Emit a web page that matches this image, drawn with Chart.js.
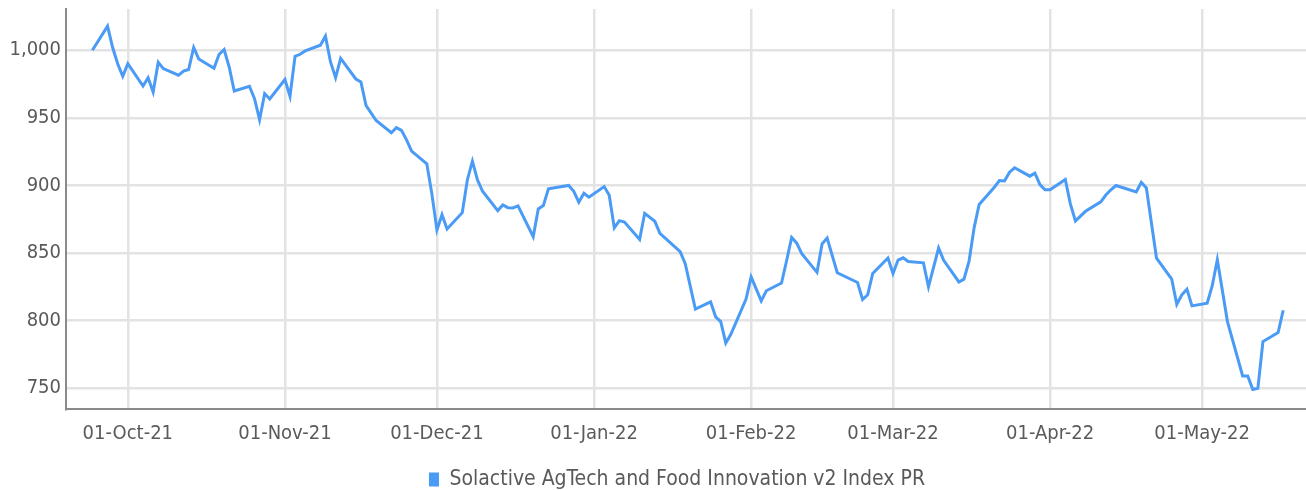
<!DOCTYPE html>
<html>
<head>
<meta charset="utf-8">
<script src="https://cdn.jsdelivr.net/npm/chart.js@4.4.1/dist/chart.umd.min.js"></script>
<style>
  html, body { margin: 0; padding: 0; background: #fff; }
  #wrap { width: 1306px; height: 490px; position: relative; }
</style>
</head>
<body>
<div id="wrap"><canvas id="indexChart"></canvas></div>
<script>
const seriesLabel = 'Solactive AgTech and Food Innovation v2 Index PR';

// trading days
const tradeDates = [
  '2021-09-24', '2021-09-27', '2021-09-28', '2021-09-29', '2021-09-30', '2021-10-01',
  '2021-10-04', '2021-10-05', '2021-10-06', '2021-10-07', '2021-10-08',
  '2021-10-11', '2021-10-12', '2021-10-13', '2021-10-14', '2021-10-15',
  '2021-10-18', '2021-10-19', '2021-10-20', '2021-10-21', '2021-10-22',
  '2021-10-25', '2021-10-26', '2021-10-27', '2021-10-28', '2021-10-29',
  '2021-11-01', '2021-11-02', '2021-11-03', '2021-11-04', '2021-11-05',
  '2021-11-08', '2021-11-09', '2021-11-10', '2021-11-11', '2021-11-12',
  '2021-11-15', '2021-11-16', '2021-11-17', '2021-11-19',
  '2021-11-22', '2021-11-23', '2021-11-24', '2021-11-25', '2021-11-26',
  '2021-11-29', '2021-11-30', '2021-12-01', '2021-12-02', '2021-12-03',
  '2021-12-06', '2021-12-07', '2021-12-08', '2021-12-09', '2021-12-10',
  '2021-12-13', '2021-12-14', '2021-12-15', '2021-12-16', '2021-12-17',
  '2021-12-20', '2021-12-21', '2021-12-22', '2021-12-23',
  '2021-12-27', '2021-12-28', '2021-12-29', '2021-12-30', '2021-12-31',
  '2022-01-03', '2022-01-04', '2022-01-05', '2022-01-06', '2022-01-07',
  '2022-01-10', '2022-01-11', '2022-01-13', '2022-01-14',
  '2022-01-18', '2022-01-19', '2022-01-21',
  '2022-01-24', '2022-01-25', '2022-01-26', '2022-01-27', '2022-01-28',
  '2022-01-31', '2022-02-01', '2022-02-03', '2022-02-04',
  '2022-02-07', '2022-02-08', '2022-02-09', '2022-02-10', '2022-02-11',
  '2022-02-14', '2022-02-15', '2022-02-16', '2022-02-18',
  '2022-02-22', '2022-02-23', '2022-02-24', '2022-02-25',
  '2022-02-28', '2022-03-01', '2022-03-02', '2022-03-03', '2022-03-04',
  '2022-03-07', '2022-03-08', '2022-03-10', '2022-03-11',
  '2022-03-14', '2022-03-15', '2022-03-16', '2022-03-17', '2022-03-18',
  '2022-03-21', '2022-03-22', '2022-03-23', '2022-03-24', '2022-03-25',
  '2022-03-28', '2022-03-29', '2022-03-30', '2022-03-31', '2022-04-01',
  '2022-04-04', '2022-04-05', '2022-04-06', '2022-04-08',
  '2022-04-11', '2022-04-12', '2022-04-13', '2022-04-14',
  '2022-04-18', '2022-04-19', '2022-04-20', '2022-04-22',
  '2022-04-25', '2022-04-26', '2022-04-27', '2022-04-28', '2022-04-29',
  '2022-05-02', '2022-05-03', '2022-05-04', '2022-05-06',
  '2022-05-09', '2022-05-10', '2022-05-11', '2022-05-12', '2022-05-13',
  '2022-05-16', '2022-05-17',
];

const indexValues = [
  1000, 1017.8, 1002, 990, 980.7, 990,
  973.5, 979.7, 969, 991, 986.4,
  981.5, 984.6, 985.7, 1002, 993.5,
  986.6, 996.8, 1000.5, 987.6, 969.8,
  973.3, 964.2, 948.6, 967.9, 963.9,
  978.3, 965.9, 995.5, 997, 999.5,
  1003.7, 1010.4, 991.3, 979.7, 994,
  978.7, 976.5, 959.2, 948,
  938.9, 942.7, 940.7, 933.7, 925.3,
  916, 893.7, 867, 878.3, 867.7,
  879.8, 904, 917.9, 904, 895.6,
  881.3, 885.5, 883.5, 883.3, 884.8,
  862, 882.6, 885, 897.4,
  899.9, 895.6, 887.5, 894.1, 891.2,
  899.1, 892.7, 868.5, 873.9, 872.9,
  860, 879.3, 873.4, 864.5,
  850.9, 842, 808.4,
  813.8, 802.7, 799.2, 783.4, 789.8,
  815.8, 832.3, 814.5, 822,
  827.7, 844.2, 861.5, 857.2, 849.5,
  835.6, 856.6, 861, 835.3,
  828.1, 815.5, 819, 834.8,
  846.2, 834.8, 844.7, 846.4, 843.7,
  842.7, 824.9, 853.6, 844.5,
  828.5, 830.6, 843.7, 868.5, 885.8,
  898.6, 903.6, 903.3, 909.7, 913,
  906.8, 909, 900.6, 896.7, 896.7,
  904.3, 886.3, 873.7, 880.8,
  887.8, 892.8, 896.7, 899.9,
  895.2, 902.3, 898.1, 846.2,
  830.6, 812, 819, 823.2, 810.8,
  812.8, 825.7, 844.9, 799.2,
  758.9, 758.9, 749, 749.8, 784.4,
  791, 807.6,
];

const monthTickDates = [
  '2021-10-01', '2021-11-01', '2021-12-01', '2022-01-01',
  '2022-02-01', '2022-03-01', '2022-04-01', '2022-05-01',
];
const monthTickLabels = [
  '01-Oct-21', '01-Nov-21', '01-Dec-21', '01-Jan-22',
  '01-Feb-22', '01-Mar-22', '01-Apr-22', '01-May-22',
];
const yTickValues = [750, 800, 850, 900, 950, 1000];

// days counted from 01-Oct-21
function dayNumber(iso) {
  const [y, m, d] = iso.split('-').map(Number);
  return (Date.UTC(y, m - 1, d) - Date.UTC(2021, 9, 1)) / 86400000;
}

const points = tradeDates.map((d, i) => ({ x: dayNumber(d), y: indexValues[i] }));
const monthTicks = monthTickDates.map(dayNumber);

const fontFamily = "'Liberation Sans Narrow', 'DejaVu Sans Condensed', 'Roboto', sans-serif";
const textColor = '#5a5a5a';

// the legend in the original sits a little right of the canvas centre
const legendShift = {
  id: 'legendShift',
  afterLayout(chart) {
    chart.legend.left += 24;
    chart.legend.right += 24;
  },
};

const config = {
  type: 'line',
  data: {
    datasets: [
      {
        label: seriesLabel,
        data: points,
        borderColor: '#4a9bf5',
        backgroundColor: '#4a9bf5',
        borderWidth: 3,
        pointRadius: 0,
        tension: 0,
        fill: false,
      },
    ],
  },
  options: {
    responsive: true,
    maintainAspectRatio: false,
    animation: false,
    layout: {
      padding: { top: 9, right: 0, bottom: -10, left: 0 },
    },
    plugins: {
      legend: {
        position: 'bottom',
        labels: {
          color: textColor,
          boxWidth: 10,
          boxHeight: 14,
          padding: 2,
          font: { family: fontFamily, size: 21 },
          generateLabels: (chart) =>
            Chart.defaults.plugins.legend.labels
              .generateLabels(chart)
              .map((item) => ({ ...item, lineWidth: 0 })),
        },
      },
      tooltip: { enabled: false },
    },
    scales: {
      x: {
        type: 'linear',
        min: -12.2,
        max: 232.5,
        afterBuildTicks: (scale) => {
          scale.ticks = monthTicks.map((v) => ({ value: v }));
        },
        afterFit: (scale) => {
          scale.height = 58;
          scale.paddingLeft = 0;
          scale.paddingRight = 0;
        },
        ticks: {
          color: textColor,
          padding: 13,
          maxRotation: 0,
          autoSkip: false,
          font: { family: fontFamily, size: 20 },
          callback: (value) => monthTickLabels[monthTicks.indexOf(value)],
        },
        grid: {
          color: '#e3e3e3',
          lineWidth: 2.5,
          drawTicks: false,
        },
        border: { color: '#8a8a8a', width: 2 },
      },
      y: {
        min: 734.5,
        max: 1030.5,
        afterBuildTicks: (scale) => {
          scale.ticks = yTickValues.map((v) => ({ value: v }));
        },
        afterFit: (scale) => {
          scale.width = 66;
          scale.paddingTop = 0;
          scale.paddingBottom = 0;
        },
        ticks: {
          color: textColor,
          padding: 5,
          font: { family: fontFamily, size: 20 },
          callback: (value) => value.toLocaleString('en-US'),
        },
        grid: {
          color: '#e3e3e3',
          lineWidth: 2.5,
          drawTicks: false,
        },
        border: { color: '#8a8a8a', width: 2 },
      },
    },
  },
  plugins: [legendShift],
};

const ctx = document.getElementById('indexChart').getContext('2d');
const indexChart = new Chart(ctx, config);
</script>
</body>
</html>
